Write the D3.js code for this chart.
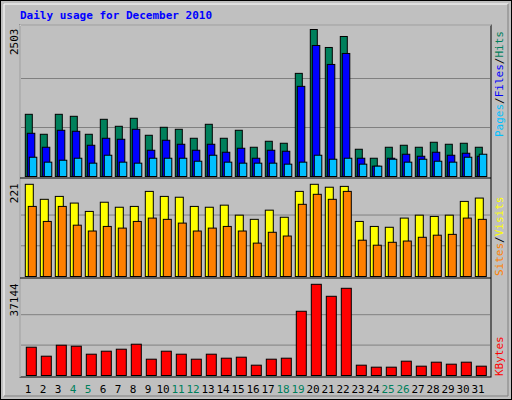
<!DOCTYPE html>
<html><head><meta charset="utf-8">
<script src="https://cdn.jsdelivr.net/npm/d3@7"></script>
<style>body{margin:0;background:#fff}text{font-family:"DejaVu Sans Mono",monospace}</style>
</head><body><div id="chart"></div>
<script>
var days = d3.range(1, 32)
var weekends = [4, 5, 11, 12, 18, 19, 25, 26]
var hits = [1059,719,1059,1025,719,974,855,991,702,838,804,651,889,651,787,498,600,566,1756,2503,2197,2384,464,311,498,532,498,583,549,566,498]
var files = [736,498,787,770,532,651,634,804,447,617,549,447,549,413,481,311,447,430,1535,2231,1908,2095,311,176,311,379,345,413,362,396,345]
var pages = [328,244,277,311,227,362,244,227,311,311,311,260,362,244,227,227,227,210,244,362,294,311,210,176,294,244,294,260,244,328,379]
var sites = [221,185,192,176,156,178,166,168,204,192,190,168,166,171,147,137,159,142,204,221,214,216,132,120,118,140,147,144,147,180,188]
var visits = [168,132,168,123,109,120,116,132,140,137,128,109,116,120,109,80,106,97,173,197,185,204,87,75,82,85,94,99,101,140,137]
var kbytes = [11523,7862,12336,11929,8676,9896,10709,12743,6642,9896,8676,6642,8676,7049,7456,4202,6642,7049,26163,37144,32263,35517,4202,3389,3389,5829,3796,5422,4609,5422,3796]

var width = 512, height = 400
var left = 20, right = 491
var svg = d3.select("#chart").append("svg").attr("width", width).attr("height", height)

svg.append("rect").attr("x", 0.5).attr("y", 0.5).attr("width", 511).attr("height", 399)
  .attr("fill", "#c0c0c0").attr("stroke", "#000")
svg.append("path").attr("d", "M4,396V4H508").attr("fill", "none").attr("stroke", "#fff")
svg.append("path").attr("d", "M4,396H508V4").attr("fill", "none").attr("stroke", "#808080")

svg.append("text").attr("x", 20).attr("y", 19).attr("fill", "#0000ff")
  .style("font-weight", "bold").style("font-size", "11px").text("Daily usage for December 2010")

var x = d3.scaleBand().domain(days).range([20.3, 20.3 + 15 * 31]).paddingInner(0)

// plot frame
svg.append("rect").attr("x", left).attr("y", 25).attr("width", right - left).attr("height", 352)
  .attr("fill", "none").attr("stroke", "#000")
svg.append("path").attr("d", "M" + left + ",377V25H" + right).attr("fill", "none").attr("stroke", "#fff")

function panel(y0, y1, max, series, label, legend) {
  var y = d3.scaleLinear().domain([0, max]).range([y1, y0])
  ;[1 / 3, 2 / 3].forEach(function (f) {
    svg.append("line").attr("x1", left + 1).attr("x2", right - 1)
      .attr("y1", y(max * f)).attr("y2", y(max * f)).attr("stroke", "#808080").attr("stroke-width", 1)
  })
  series.forEach(function (s) {
    svg.append("g").selectAll("rect").data(s.values).enter().append("rect")
      .attr("x", function (d, i) { return x(days[i]) + s.off })
      .attr("y", function (d) { return y(d) })
      .attr("width", s.w)
      .attr("height", function (d) { return y1 - y(d) })
      .attr("fill", s.color).attr("stroke", "#000").attr("stroke-width", 1)
  })
  svg.append("text").attr("transform", "translate(18," + (y0 - 1) + ") rotate(-90)")
    .attr("text-anchor", "end").style("font-size", "11px").attr("fill", "#000").text(label)
  var t = svg.append("text").attr("transform", "translate(503," + legend.y + ") rotate(-90)")
    .attr("text-anchor", "start").style("font-size", "11px")
  legend.parts.forEach(function (p, i) {
    if (i > 0) t.append("tspan").attr("fill", "#000").text("/")
    t.append("tspan").attr("fill", p[1]).text(p[0])
  })
  if (y1 < 370) svg.append("line").attr("x1", left).attr("x2", right).attr("y1", y1 + 1.5).attr("y2", y1 + 1.5).attr("stroke", "#000")
}

panel(29.5, 176.5, 2503, [
  { values: hits, color: "#00805c", off: 5, w: 7 },
  { values: files, color: "#0000ff", off: 7, w: 7.5 },
  { values: pages, color: "#00c0ff", off: 9, w: 7.5 }
], "2503", { y: 137, parts: [["Pages", "#00c0ff"], ["Files", "#0000ff"], ["Hits", "#00805c"]] })

panel(184.3, 276.5, 221, [
  { values: sites, color: "#ffff00", off: 5, w: 8 },
  { values: visits, color: "#ff8000", off: 8, w: 8 }
], "221", { y: 276, parts: [["Sites", "#ff8000"], ["Visits", "#ffff00"]] })

panel(284.3, 375.5, 37144, [
  { values: kbytes, color: "#ff0000", off: 6, w: 10 }
], "37144", { y: 376, parts: [["KBytes", "#ff0000"]] })

svg.append("g").selectAll("text").data(days).enter().append("text")
  .attr("x", function (d) { return x(d) + 7.7 }).attr("y", 393)
  .attr("text-anchor", "middle").style("font-size", "11px")
  .attr("fill", function (d) { return weekends.indexOf(d) >= 0 ? "#00805c" : "#000" })
  .text(function (d) { return d })
</script></body></html>
